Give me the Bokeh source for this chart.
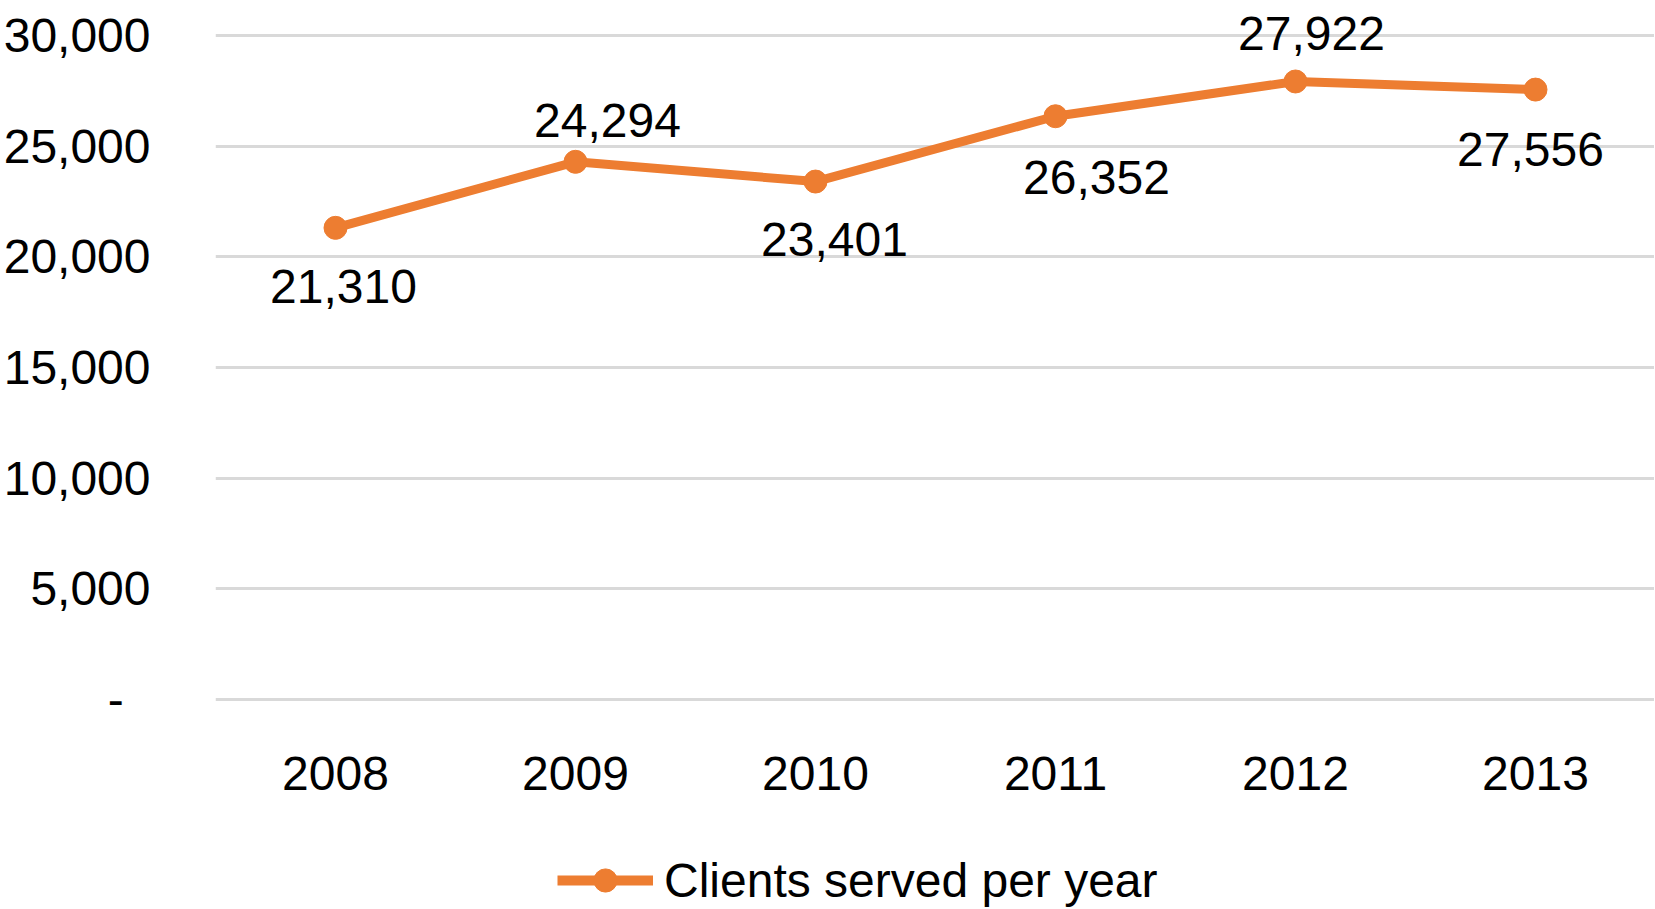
from bokeh.plotting import figure
from bokeh.layouts import column
from bokeh.models import (ColumnDataSource, Range1d, FixedTicker, Legend, LegendItem)
from bokeh.core.properties import value
from bokeh.embed import file_html
from bokeh.resources import INLINE

years = ["2008", "2009", "2010", "2011", "2012", "2013"]
clients = [21310, 24294, 23401, 26352, 27922, 27556]
y_ticks = [0, 5000, 10000, 15000, 20000, 25000, 30000]
series_name = "Clients served per year"
# label placement (screen pixels) relative to each point
label_dx = [8, 32, 19, 41, 16, -5]
label_dy = [59, -41, 58, 61, -48, 60]

FONT_NAME = "Liberation Sans"
ORANGE = "#ED7D31"
FS = "48px"

K = 664 / 30000          # pixels per client on the y scale
FW, FH = 1439, 701
MAIN_BOTTOM = 110
TOTAL_H = 909

xs = list(range(len(years)))
src = ColumnDataSource(dict(
    x=xs, y=clients,
    txt=[f"{v:,}" for v in clients],
    dx=label_dx, dy=label_dy,
))

p = figure(frame_width=FW, frame_height=FH,
           x_range=Range1d(-0.5, FW / 240 - 0.5),
           y_range=Range1d(-2 / K, 30000 + 35 / K),
           output_backend="svg", toolbar_location=None,
           min_border_left=207, min_border_right=0, min_border_top=0,
           min_border_bottom=MAIN_BOTTOM)
p.outline_line_color = None
p.xgrid.grid_line_color = None
p.ygrid.grid_line_color = "#D9D9D9"
p.ygrid.grid_line_width = 3
p.ygrid.ticker = FixedTicker(ticks=y_ticks)

p.yaxis.ticker = FixedTicker(ticks=y_ticks)
p.yaxis.major_label_overrides = {t: (f"{t:,}" if t else "-\u00a0\u00a0") for t in y_ticks}
p.xaxis.ticker = FixedTicker(ticks=xs)
p.xaxis.major_label_overrides = {i: y for i, y in enumerate(years)}
for ax in (p.xaxis, p.yaxis):
    ax.axis_line_color = None
    ax.major_tick_line_color = None
    ax.minor_tick_line_color = None
    ax.major_label_text_font = FONT_NAME
    ax.major_label_text_font_size = FS
    ax.major_label_text_color = "black"
p.yaxis.major_label_standoff = 59
p.xaxis.major_label_standoff = 49

p.line("x", "y", source=src, line_color=ORANGE, line_width=9)
p.scatter("x", "y", source=src, size=23, fill_color=ORANGE, line_color=ORANGE)
p.text("x", "y", text="txt", source=src, x_offset="dx", y_offset="dy",
       text_align="center", text_baseline="middle", text_font=value(FONT_NAME),
       text_font_size=FS, text_color="black")

# legend strip below the chart (series drawn off-view, only its legend shows)
lh = TOTAL_H - (FH + MAIN_BOTTOM)
lg = figure(width=1654, height=lh, x_range=Range1d(100, 101), y_range=Range1d(0, 1),
            x_axis_type=None, y_axis_type=None, output_backend="svg",
            toolbar_location=None, min_border=0)
lg.outline_line_color = None
lr = lg.line("x", "y", source=src, line_color=ORANGE, line_width=10)
ls = lg.scatter("x", "y", source=src, size=23, fill_color=ORANGE, line_color=ORANGE)
legend = Legend(items=[LegendItem(label=series_name, renderers=[lr, ls])],
                location=(342, 0), orientation="horizontal",
                border_line_color=None, background_fill_alpha=0,
                glyph_width=96, glyph_height=58, label_standoff=11,
                padding=0, margin=0, spacing=0,
                label_text_font=FONT_NAME, label_text_font_size=FS, label_text_color="black")
lg.add_layout(legend)

layout = column(p, lg, spacing=0)
open("out.html", "w").write(file_html(layout, INLINE))
